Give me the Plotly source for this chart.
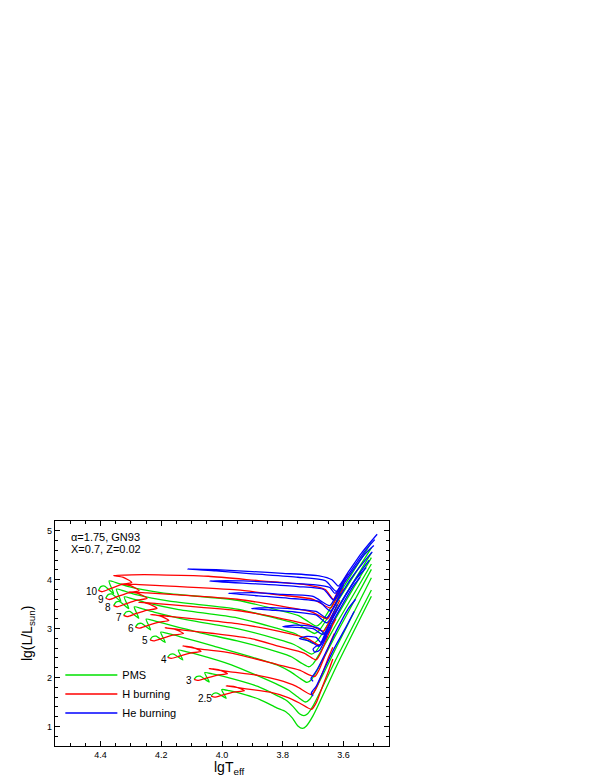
import plotly.graph_objects as go

# ---------------- data (lgTeff, lg L/Lsun) ----------------
masses = ["10", "9", "8", "7", "6", "5", "4", "3", "2.5"]

# mass labels
label_lgt = [4.428, 4.399, 4.377, 4.338, 4.301, 4.254, 4.191, 4.108, 4.056]
label_lgl = [3.76, 3.59, 3.43, 3.23, 3.01, 2.75, 2.36, 1.93, 1.58]

# ---- 2.5 Msun
pms_lgt_2p5 = [3.508, 3.62, 3.70, 3.722, 3.735, 3.75, 3.768, 3.79, 3.82, 3.875, 3.936, 3.976, 4.001, 3.986, 4.016, 4.028, 4.036]
pms_lgl_2p5 = [3.66, 2.27, 1.22, 1.01, 0.96, 1.01, 1.17, 1.30, 1.38, 1.55, 1.67, 1.73, 1.755, 1.575, 1.683, 1.674, 1.62]
h_lgt_2p5 = [4.036, 4.024, 3.996, 3.961, 3.926, 3.956, 3.986, 3.921, 3.842, 3.787, 3.745, 3.705, 3.69, 3.67, 3.65, 3.635]
h_lgl_2p5 = [1.62, 1.60, 1.647, 1.70, 1.73, 1.81, 1.83, 1.77, 1.70, 1.60, 1.48, 1.35, 1.48, 1.80, 2.12, 2.38]
he_lgt_2p5 = [3.70, 3.706, 3.70, 3.69, 3.665, 3.63, 3.59, 3.565]
he_lgl_2p5 = [1.62, 1.68, 1.74, 1.82, 2.15, 2.60, 3.05, 3.35]

# ---- 3 Msun
pms_lgt_3 = [3.508, 3.62, 3.70, 3.718, 3.73, 3.745, 3.765, 3.79, 3.815, 3.882, 3.992, 4.032, 4.057, 4.042, 4.072, 4.084, 4.092]
pms_lgl_3 = [3.79, 2.43, 1.42, 1.26, 1.22, 1.26, 1.40, 1.54, 1.62, 1.817, 2.017, 2.074, 2.10, 1.91, 2.027, 2.017, 1.96]
h_lgt_3 = [4.092, 4.080, 4.052, 4.017, 3.982, 4.012, 4.042, 3.977, 3.882, 3.815, 3.755, 3.705, 3.69, 3.67, 3.65, 3.635]
h_lgl_3 = [1.96, 1.941, 1.989, 2.046, 2.079, 2.16, 2.183, 2.12, 2.045, 1.95, 1.82, 1.65, 1.78, 2.08, 2.40, 2.62]
he_lgt_3 = [3.70, 3.707, 3.70, 3.685, 3.655, 3.62, 3.585, 3.56]
he_lgl_3 = [1.92, 1.98, 2.04, 2.18, 2.55, 3.00, 3.40, 3.60]

# ---- 4 Msun
pms_lgt_4 = [3.508, 3.62, 3.71, 3.725, 3.75, 3.78, 3.815, 3.969, 4.079, 4.119, 4.144, 4.129, 4.159, 4.171, 4.179]
pms_lgl_4 = [4.04, 2.66, 1.56, 1.50, 1.60, 1.74, 1.85, 2.26, 2.47, 2.53, 2.56, 2.36, 2.48, 2.47, 2.41]
h_lgt_4 = [4.179, 4.167, 4.139, 4.104, 4.069, 4.099, 4.129, 4.069, 3.969, 3.815, 3.745, 3.695, 3.68, 3.66, 3.64, 3.63]
h_lgl_4 = [2.41, 2.39, 2.44, 2.50, 2.535, 2.62, 2.645, 2.58, 2.50, 2.26, 2.15, 2.02, 2.16, 2.46, 2.76, 2.90]
he_lgt_4 = [3.655, 3.68, 3.695, 3.70, 3.69, 3.675, 3.655, 3.61, 3.57, 3.545]
he_lgl_4 = [2.85, 2.55, 2.52, 2.58, 2.64, 2.68, 2.92, 3.42, 3.85, 4.05]

# ---- 5 Msun
pms_lgt_5 = [3.508, 3.62, 3.705, 3.72, 3.745, 3.775, 3.815, 4.027, 4.137, 4.177, 4.202, 4.187, 4.217, 4.229, 4.237]
pms_lgl_5 = [4.21, 2.93, 1.96, 1.90, 1.99, 2.12, 2.25, 2.64, 2.833, 2.896, 2.928, 2.718, 2.844, 2.833, 2.77]
h_lgt_5 = [4.237, 4.225, 4.197, 4.162, 4.127, 4.157, 4.187, 4.127, 4.027, 3.90, 3.815, 3.73, 3.69, 3.675, 3.655, 3.635, 3.625]
h_lgl_5 = [2.77, 2.749, 2.80, 2.865, 2.90, 2.99, 3.017, 2.97, 2.90, 2.79, 2.64, 2.50, 2.36, 2.50, 2.80, 3.08, 3.20]
he_lgt_5 = [3.64, 3.68, 3.71, 3.745, 3.72, 3.69, 3.675, 3.655, 3.61, 3.56, 3.525]
he_lgl_5 = [3.05, 2.64, 2.74, 2.80, 2.84, 2.82, 2.72, 2.98, 3.50, 4.00, 4.25]

# ---- 6 Msun
pms_lgt_6 = [3.508, 3.62, 3.70, 3.715, 3.74, 3.77, 3.815, 3.95, 4.075, 4.185, 4.225, 4.25, 4.235, 4.265, 4.277, 4.285]
pms_lgl_6 = [4.32, 3.13, 2.28, 2.22, 2.30, 2.42, 2.52, 2.75, 2.92, 3.096, 3.162, 3.195, 2.975, 3.107, 3.096, 3.03]
h_lgt_6 = [4.285, 4.273, 4.245, 4.21, 4.175, 4.205, 4.235, 4.175, 4.075, 3.95, 3.815, 3.72, 3.678, 3.665, 3.645, 3.625]
h_lgl_6 = [3.03, 3.008, 3.063, 3.129, 3.168, 3.261, 3.289, 3.25, 3.19, 3.10, 2.95, 2.80, 2.66, 2.80, 3.10, 3.36]
he_lgt_6 = [3.63, 3.668, 3.70, 3.75, 3.80, 3.76, 3.71, 3.68, 3.663, 3.64, 3.59, 3.545, 3.515]
he_lgl_6 = [3.30, 2.88, 3.00, 3.025, 3.04, 3.07, 3.05, 3.00, 2.90, 3.17, 3.72, 4.15, 4.40]

# ---- 7 Msun
pms_lgt_7 = [3.508, 3.62, 3.69, 3.705, 3.73, 3.765, 3.815, 3.95, 4.114, 4.224, 4.264, 4.289, 4.274, 4.304, 4.316, 4.324]
pms_lgl_7 = [4.45, 3.27, 2.54, 2.48, 2.56, 2.68, 2.78, 3.00, 3.18, 3.339, 3.408, 3.443, 3.213, 3.35, 3.339, 3.27]
h_lgt_7 = [4.324, 4.312, 4.284, 4.249, 4.214, 4.244, 4.274, 4.214, 4.114, 3.95, 3.815, 3.715, 3.665, 3.65, 3.63, 3.612]
h_lgl_7 = [3.27, 3.247, 3.305, 3.374, 3.414, 3.512, 3.54, 3.51, 3.46, 3.37, 3.22, 3.08, 2.95, 3.10, 3.36, 3.58]
he_lgt_7 = [3.62, 3.655, 3.69, 3.76, 3.84, 3.903, 3.84, 3.76, 3.69, 3.655, 3.63, 3.58, 3.535, 3.505]
he_lgl_7 = [3.50, 3.12, 3.28, 3.34, 3.38, 3.41, 3.43, 3.40, 3.35, 3.22, 3.46, 3.98, 4.35, 4.57]

# ---- 8 Msun
pms_lgt_8 = [3.508, 3.62, 3.685, 3.70, 3.725, 3.76, 3.815, 3.95, 4.147, 4.257, 4.297, 4.322, 4.307, 4.337, 4.349, 4.357]
pms_lgl_8 = [4.55, 3.42, 2.76, 2.70, 2.78, 2.90, 3.00, 3.22, 3.395, 3.542, 3.614, 3.65, 3.41, 3.554, 3.542, 3.47]
h_lgt_8 = [4.357, 4.345, 4.317, 4.282, 4.247, 4.277, 4.307, 4.247, 4.147, 3.95, 3.815, 3.71, 3.652, 3.64, 3.62, 3.60]
h_lgl_8 = [3.47, 3.446, 3.506, 3.578, 3.62, 3.722, 3.752, 3.73, 3.69, 3.60, 3.47, 3.35, 3.20, 3.34, 3.60, 3.82]
he_lgt_8 = [3.61, 3.643, 3.68, 3.78, 3.88, 3.979, 3.90, 3.80, 3.70, 3.645, 3.62, 3.57, 3.53, 3.50]
he_lgl_8 = [3.72, 3.36, 3.55, 3.62, 3.67, 3.72, 3.735, 3.70, 3.66, 3.47, 3.72, 4.18, 4.52, 4.70]

# ---- 9 Msun
pms_lgt_9 = [3.508, 3.62, 3.68, 3.695, 3.72, 3.755, 3.815, 3.95, 4.173, 4.283, 4.323, 4.348, 4.333, 4.363, 4.375, 4.383]
pms_lgl_9 = [4.65, 3.55, 2.96, 2.90, 2.98, 3.10, 3.20, 3.40, 3.56, 3.695, 3.77, 3.808, 3.558, 3.708, 3.695, 3.62]
h_lgt_9 = [4.383, 4.371, 4.343, 4.308, 4.273, 4.303, 4.333, 4.273, 4.173, 3.95, 3.815, 3.70, 3.642, 3.63, 3.61, 3.592]
h_lgl_9 = [3.62, 3.595, 3.658, 3.733, 3.776, 3.883, 3.914, 3.90, 3.87, 3.79, 3.69, 3.60, 3.42, 3.55, 3.80, 4.00]
he_lgt_9 = [3.60, 3.632, 3.665, 3.75, 3.87, 4.04, 3.93, 3.82, 3.70, 3.645, 3.628, 3.60, 3.56, 3.525, 3.497]
he_lgl_9 = [3.90, 3.58, 3.80, 3.86, 3.91, 3.97, 3.975, 3.945, 3.90, 3.84, 3.72, 3.96, 4.32, 4.62, 4.82]

# ---- 10 Msun
pms_lgt_10 = [3.508, 3.62, 3.675, 3.69, 3.715, 3.75, 3.815, 3.95, 4.197, 4.307, 4.347, 4.372, 4.357, 4.387, 4.399, 4.407]
pms_lgl_10 = [4.76, 3.65, 3.11, 3.05, 3.14, 3.27, 3.38, 3.58, 3.73, 3.858, 3.936, 3.975, 3.715, 3.871, 3.858, 3.78]
h_lgt_10 = [4.407, 4.395, 4.367, 4.332, 4.297, 4.327, 4.357, 4.297, 4.21, 4.045, 3.88, 3.716, 3.66, 3.633, 3.62, 3.60, 3.585]
h_lgl_10 = [3.78, 3.754, 3.819, 3.897, 3.943, 4.053, 4.086, 4.10, 4.10, 4.07, 3.98, 3.89, 3.80, 3.60, 3.75, 3.98, 4.13]
he_lgt_10 = [3.595, 3.623, 3.66, 3.75, 3.90, 4.02, 4.113, 4.02, 3.90, 3.80, 3.68, 3.638, 3.617, 3.585, 3.54, 3.489]
he_lgl_10 = [4.05, 3.76, 3.98, 4.05, 4.12, 4.18, 4.22, 4.205, 4.165, 4.13, 4.08, 4.00, 3.87, 4.15, 4.55, 4.93]

pms_tracks = [(pms_lgt_10, pms_lgl_10), (pms_lgt_9, pms_lgl_9), (pms_lgt_8, pms_lgl_8),
              (pms_lgt_7, pms_lgl_7), (pms_lgt_6, pms_lgl_6), (pms_lgt_5, pms_lgl_5),
              (pms_lgt_4, pms_lgl_4), (pms_lgt_3, pms_lgl_3), (pms_lgt_2p5, pms_lgl_2p5)]
h_tracks = [(h_lgt_10, h_lgl_10), (h_lgt_9, h_lgl_9), (h_lgt_8, h_lgl_8),
            (h_lgt_7, h_lgl_7), (h_lgt_6, h_lgl_6), (h_lgt_5, h_lgl_5),
            (h_lgt_4, h_lgl_4), (h_lgt_3, h_lgl_3), (h_lgt_2p5, h_lgl_2p5)]
he_tracks = [(he_lgt_10, he_lgl_10), (he_lgt_9, he_lgl_9), (he_lgt_8, he_lgl_8),
             (he_lgt_7, he_lgl_7), (he_lgt_6, he_lgl_6), (he_lgt_5, he_lgl_5),
             (he_lgt_4, he_lgl_4), (he_lgt_3, he_lgl_3), (he_lgt_2p5, he_lgl_2p5)]

phases = [("PMS", "#00e000", pms_tracks),
          ("H burning", "#ff0000", h_tracks),
          ("He burning", "#0000ff", he_tracks)]

FONT = "Arial, Liberation Sans, Helvetica, sans-serif"

fig = go.Figure()
for name, color, tracks in phases:
    xs, ys = [], []
    for tx, ly in tracks:
        xs += list(tx) + [None]
        ys += list(ly) + [None]
    fig.add_trace(go.Scatter(
        x=xs, y=ys, mode="lines", name=name,
        line=dict(color=color, width=1.3, shape="spline", smoothing=0.6),
        connectgaps=False, hoverinfo="skip"))

for m, tx, ly in zip(masses, label_lgt, label_lgl):
    fig.add_annotation(x=tx, y=ly, text=m, showarrow=False, xref="x", yref="y",
                       font=dict(family=FONT, size=10, color="black"))

fig.add_annotation(xref="paper", yref="paper", x=0.043, y=0.928, xanchor="left", yanchor="middle",
                   text="\u03b1=1.75, GN93", showarrow=False,
                   font=dict(family=FONT, size=11, color="black"))
fig.add_annotation(xref="paper", yref="paper", x=0.043, y=0.874, xanchor="left", yanchor="middle",
                   text="X=0.7, Z=0.02", showarrow=False,
                   font=dict(family=FONT, size=11, color="black"))

# axis titles placed as annotations for exact placement
fig.add_annotation(xref="paper", yref="paper", x=0.52, y=-0.148, xanchor="center", yanchor="bottom",
                   text="lgT<sub>eff</sub>", showarrow=False,
                   font=dict(family=FONT, size=14, color="black"))
fig.add_annotation(xref="paper", yref="paper", x=-0.082, y=0.5, xanchor="center", yanchor="middle",
                   text="lg(L/L<sub>sun</sub>)", showarrow=False, textangle=-90,
                   font=dict(family=FONT, size=14, color="black"))

axis_common = dict(showline=True, linecolor="black", linewidth=1.2, mirror="allticks",
                   ticks="inside", ticklen=5, tickwidth=1, tickcolor="black",
                   showgrid=False, zeroline=False, automargin=False,
                   tickfont=dict(family=FONT, size=9, color="black"))

fig.update_xaxes(range=[4.55, 3.45], tick0=3.6, dtick=0.2, tickformat=".1f",
                 minor=dict(ticks="inside", ticklen=3, tickcolor="black", dtick=0.05, tick0=3.6),
                 **axis_common)
fig.update_yaxes(range=[0.6, 5.2], tick0=1, dtick=1,
                 minor=dict(ticks="inside", ticklen=3, tickcolor="black", dtick=0.2, tick0=1),
                 **axis_common)

fig.update_layout(
    width=599, height=776,
    margin=dict(l=47, r=218, t=513, b=38),
    paper_bgcolor="white", plot_bgcolor="white",
    font=dict(family=FONT, color="black"),
    showlegend=True,
    legend=dict(x=0.016, y=0.38, xanchor="left", yanchor="top",
                bgcolor="rgba(0,0,0,0)", borderwidth=0,
                font=dict(family=FONT, size=11, color="black"),
                itemwidth=52, tracegroupgap=0),
)

fig.write_html("out.html")
